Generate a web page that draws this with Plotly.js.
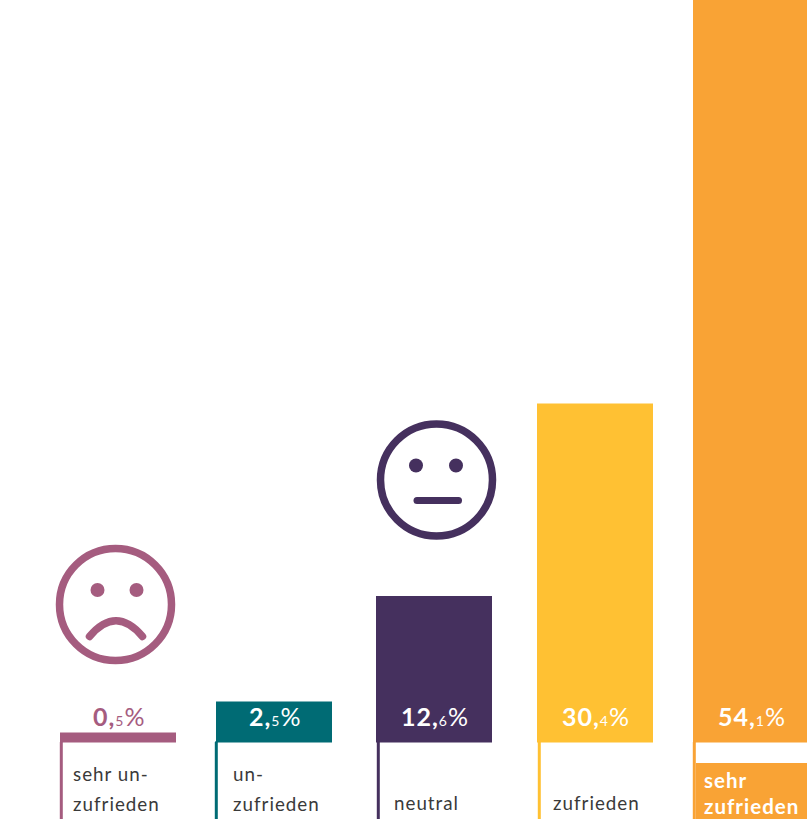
<!DOCTYPE html>
<html><head><meta charset="utf-8">
<script src="https://cdn.plot.ly/plotly-3.0.1.min.js"></script>
<style>
html,body{margin:0;padding:0;background:#fff;overflow:hidden}
.shapelayer path{stroke-linecap:round}
.annotation-text{letter-spacing:1px}
</style></head><body>
<div id="chart" style="width:807px;height:819px"></div>
<script>
const categories=['sehr unzufrieden','unzufrieden','neutral','zufrieden','sehr zufrieden'];
const shares=[0.5,2.5,12.6,30.4,54.1];
const intPart=['0','2','12','30','54'];
const decPart=['5','5','6','4','1'];
// drawn bar lengths as measured on the picture (the source bars are not to linear scale)
const drawnLengths=[10,41,146.5,339,743];
const barCenters=[118,274,434,595,751];
const stemX=[61.3,216.3,378.3,539.3,694.3];
const colors=['#A55C7F','#006B74','#45305E','#FFC133','#F9A335'];
const catLines=[['sehr un-','zufrieden'],['un-','zufrieden'],['neutral'],['zufrieden'],['sehr','zufrieden']];
const catX=[71,231,392,551,702];
const FONT='Lato, "Open Sans", sans-serif';
const yOf=p=>742.5-p;

const traces=[{type:'bar',x:barCenters,y:drawnLengths,width:116,
  marker:{color:colors,line:{width:0}},
  customdata:shares,text:categories,hoverinfo:'skip',textposition:'none'}];

const annotations=[];
categories.forEach((c,i)=>{
  annotations.push({x:barCenters[i]+1,y:yOf(716),xref:'x',yref:'y',showarrow:false,xanchor:'center',yanchor:'middle',
    text:`<b>${intPart[i]},</b><span style="font-size:14px">${decPart[i]}</span>%`,
    font:{family:FONT,size:25,color:i===0?colors[0]:'#fff'}});
});
catLines.forEach((lines,i)=>{
  const light=i===4;
  lines.forEach((t,j)=>{
    const py=light?(j===0?780:806):(lines.length===1?802:(j===0?773:803));
    annotations.push({x:catX[i],y:yOf(py),xref:'x',yref:'y',showarrow:false,xanchor:'left',yanchor:'middle',
      text:light?`<b>${t}</b>`:t,
      font:{family:FONT,size:light?20.5:18.8,color:light?'#fff':'#3a3a3a'}});
  });
});

const shapes=[];
stemX.forEach((x,i)=>shapes.push({type:'line',xref:'x',yref:'y',x0:x,x1:x,y0:0,y1:yOf(830),line:{color:colors[i],width:3}}));
// orange label box
shapes.push({type:'rect',xref:'x',yref:'y',x0:696,x1:807,y0:yOf(763),y1:yOf(830),line:{width:0},fillcolor:colors[4],layer:'below'});
// white gap inside the orange column
shapes.push({type:'rect',xref:'x',yref:'y',x0:696,x1:807,y0:yOf(743),y1:yOf(763),line:{width:0},fillcolor:'#fff',layer:'below'});

function ring(cx,cy,r,col){shapes.push({type:'circle',xref:'x',yref:'y',x0:cx-r,x1:cx+r,y0:yOf(cy-r),y1:yOf(cy+r),line:{color:col,width:7.5},fillcolor:'rgba(0,0,0,0)'});}
function dot(cx,cy,r,col){shapes.push({type:'circle',xref:'x',yref:'y',x0:cx-r,x1:cx+r,y0:yOf(cy-r),y1:yOf(cy+r),line:{width:0},fillcolor:col});}
// sad face
ring(115.5,604.5,56,colors[0]);
dot(97.5,590,7,colors[0]);dot(136.5,590,7,colors[0]);
shapes.push({type:'path',xref:'x',yref:'y',path:`M 89.5,${yOf(636.5)} Q 116,${yOf(605)} 142.5,${yOf(636.5)}`,line:{color:colors[0],width:7.5},fillcolor:'rgba(0,0,0,0)'});
// neutral face
ring(436.5,480,56,colors[2]);
dot(416,465.5,7,colors[2]);dot(456,465.5,7,colors[2]);
shapes.push({type:'path',xref:'x',yref:'y',path:`M 417,${yOf(500.5)} L 458.5,${yOf(500.5)}`,line:{color:colors[2],width:7},fillcolor:'rgba(0,0,0,0)'});

const layout={width:807,height:819,margin:{l:0,r:0,t:0,b:0},paper_bgcolor:'#fff',plot_bgcolor:'#fff',showlegend:false,
  xaxis:{range:[0,807],visible:false,fixedrange:true},
  yaxis:{range:[yOf(819),yOf(0)],visible:false,fixedrange:true},
  annotations,shapes};
Plotly.newPlot('chart',traces,layout,{displayModeBar:false,staticPlot:true});
</script></body></html>
